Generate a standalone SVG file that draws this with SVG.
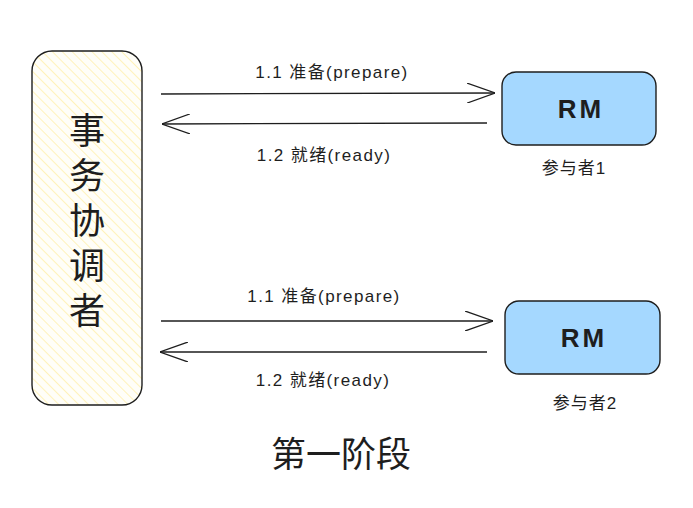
<svg xmlns="http://www.w3.org/2000/svg" width="693" height="508" viewBox="0 0 693 508">
  <style>
    .box { stroke: #1e1e1e; stroke-width: 1.4; }
    .rm { fill: #a5d8ff; }
    .wire { stroke: #1e1e1e; stroke-width: 1.3; fill: none; }
    .lbl { font-family: "Liberation Sans", "Noto Sans CJK SC", sans-serif; font-size: 17px; letter-spacing: 1.4px; fill: #1e1e1e; text-anchor: middle; }
    .who { font-family: "Liberation Sans", "Noto Sans CJK SC", sans-serif; font-size: 17px; letter-spacing: 1px; fill: #1e1e1e; text-anchor: middle; }
    .rmtxt { font-family: "Liberation Sans", sans-serif; font-size: 26px; font-weight: bold; letter-spacing: 3px; fill: #1e1e1e; text-anchor: middle; }
    .big { font-family: "Noto Sans CJK SC", sans-serif; fill: #1e1e1e; text-anchor: middle; }
    .vert { writing-mode: vertical-rl; letter-spacing: 9px; }
  </style>
  <defs>
    <pattern id="hatch" width="7" height="7" patternUnits="userSpaceOnUse" patternTransform="rotate(-45)">
      <rect width="7" height="7" fill="#fffef8"/>
      <line x1="0" y1="0" x2="0" y2="7" stroke="#ffeea6" stroke-width="1.5"/>
    </pattern>
    <marker id="head" viewBox="0 0 28 20" refX="28" refY="10" markerWidth="28" markerHeight="20" markerUnits="userSpaceOnUse" orient="auto">
      <path d="M0,0 L28,10 L0,20" fill="none" stroke="#1e1e1e" stroke-width="1.3"/>
    </marker>
  </defs>
  <rect width="693" height="508" fill="#ffffff"/>

  <g id="coordinator">
    <rect class="box" x="32" y="51" width="110" height="354" rx="20" fill="url(#hatch)"/>
    <text class="big vert" font-size="36" x="87" y="225">事务协调者</text>
  </g>

  <g id="rm1">
    <rect class="box rm" x="502" y="72" width="154" height="73" rx="14"/>
    <text class="rmtxt" x="581" y="118">RM</text>
    <text class="who" x="574" y="174">参与者1</text>
  </g>

  <g id="rm2">
    <rect class="box rm" x="505" y="301" width="155" height="73" rx="14"/>
    <text class="rmtxt" x="584" y="347">RM</text>
    <text class="who" x="585" y="409">参与者2</text>
  </g>

  <g id="connectors">
    <line class="wire" x1="161" y1="94" x2="495" y2="93" marker-end="url(#head)"/>
    <line class="wire" x1="487" y1="123" x2="162" y2="124" marker-end="url(#head)"/>
    <line class="wire" x1="161" y1="321" x2="493" y2="321" marker-end="url(#head)"/>
    <line class="wire" x1="487" y1="352" x2="160" y2="352" marker-end="url(#head)"/>
    <text class="lbl" x="332" y="78">1.1  准备(prepare)</text>
    <text class="lbl" x="324" y="161">1.2  就绪(ready)</text>
    <text class="lbl" x="324" y="302">1.1  准备(prepare)</text>
    <text class="lbl" x="323" y="386">1.2  就绪(ready)</text>
  </g>

  <text class="big" font-size="35" x="341" y="467">第一阶段</text>
</svg>
